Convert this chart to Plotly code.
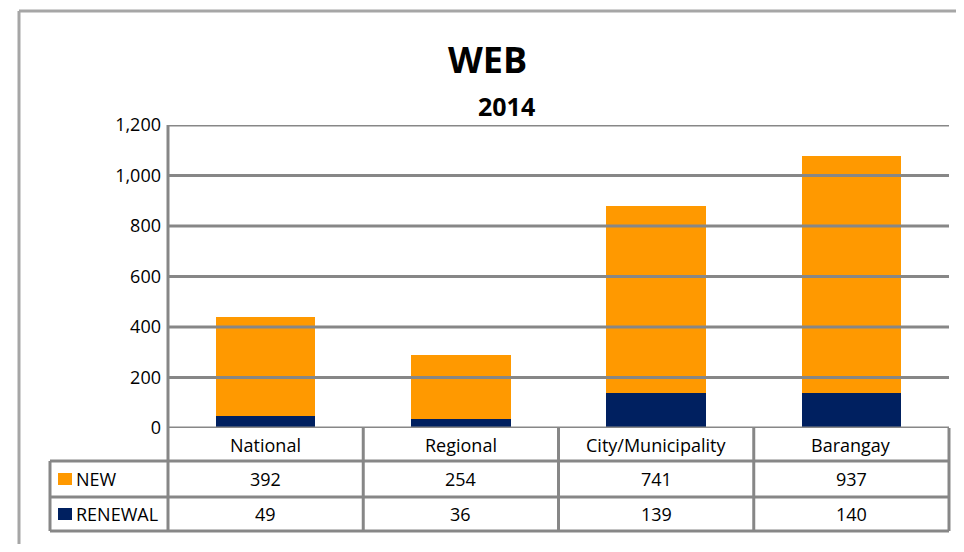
import plotly.graph_objects as go

categories = ["National", "Regional", "City/Municipality", "Barangay"]
new_vals = [392, 254, 741, 937]
renewal_vals = [49, 36, 139, 140]
y_ticks = [0, 200, 400, 600, 800, 1000, 1200]
series_names = ["NEW", "RENEWAL"]
series_colors = ["#FF9900", "#002060"]

OFF = 8  # page body margin
W, H = 964 - 2 * OFF, 552 - 2 * OFF
PLOT_L, PLOT_R, PLOT_T, PLOT_B = 168, 949, 125, 428  # page coords
L = PLOT_L - OFF
T = PLOT_T - OFF
R = W - (PLOT_R - OFF)
B = H - (PLOT_B - OFF)
PW = W - L - R
PH = H - T - B
FONT = "Open Sans"
GRID = "#878787"


def px(x):
    return (x - OFF - L) / PW


def py(y):
    return (H - B - (y - OFF)) / PH


fig = go.Figure()
fig.add_trace(go.Bar(x=categories, y=renewal_vals, name="RENEWAL",
                     marker=dict(color=series_colors[1], line=dict(width=0)), width=0.51))
fig.add_trace(go.Bar(x=categories, y=new_vals, name="NEW",
                     marker=dict(color=series_colors[0], line=dict(width=0)), width=0.51))

shapes = []
for t in y_ticks:
    shapes.append(dict(type="line", xref="paper", yref="y", x0=0, x1=1, y0=t, y1=t,
                       line=dict(color=GRID, width=3), layer="above"))

row_y = [428, 461, 497, 531]
col_x = [168, 363.25, 558.5, 753.75, 949]
left_x = 50
lw = dict(color=GRID, width=3)
for ry in row_y[1:]:
    shapes.append(dict(type="line", xref="paper", yref="paper", x0=px(left_x), x1=px(949),
                       y0=py(ry), y1=py(ry), line=lw, layer="above"))
shapes.append(dict(type="line", xref="paper", yref="paper", x0=0, x1=0,
                   y0=1, y1=py(row_y[3]), line=lw, layer="above"))
shapes.append(dict(type="line", xref="paper", yref="paper", x0=px(left_x), x1=px(left_x),
                   y0=py(row_y[1]), y1=py(row_y[3]), line=lw, layer="above"))
for cx in col_x[1:]:
    shapes.append(dict(type="line", xref="paper", yref="paper", x0=px(cx), x1=px(cx),
                       y0=py(row_y[0]), y1=py(row_y[3]), line=lw, layer="above"))

bc = dict(color="#A6A6A6", width=3)
shapes.append(dict(type="line", xref="paper", yref="paper", x0=px(19), x1=px(964),
                   y0=py(11), y1=py(11), line=bc, layer="above"))
shapes.append(dict(type="line", xref="paper", yref="paper", x0=px(19), x1=px(19),
                   y0=py(11), y1=py(552), line=bc, layer="above"))

annotations = []
tfont = dict(family=FONT, size=18, color="#000000")
for i, c in enumerate(categories):
    annotations.append(dict(x=c, xref="x", y=py(445), yref="paper", text=c,
                            showarrow=False, font=tfont, xanchor="center", yanchor="middle"))
    annotations.append(dict(x=c, xref="x", y=py(479), yref="paper", text=str(new_vals[i]),
                            showarrow=False, font=tfont, xanchor="center", yanchor="middle"))
    annotations.append(dict(x=c, xref="x", y=py(514), yref="paper", text=str(renewal_vals[i]),
                            showarrow=False, font=tfont, xanchor="center", yanchor="middle"))

for name, color, cy in zip(series_names, series_colors, [479, 514]):
    shapes.append(dict(type="rect", xref="paper", yref="paper", x0=px(58), x1=px(72),
                       y0=py(cy - 6), y1=py(cy + 6), fillcolor=color, line=dict(width=0),
                       layer="above"))
    annotations.append(dict(x=px(74), xref="paper", y=py(cy), yref="paper", text=name,
                            showarrow=False, font=tfont, xanchor="left", yanchor="middle"))

annotations.append(dict(x=px(487), xref="paper", y=py(59), yref="paper", text="<b>WEB</b>",
                        showarrow=False, font=dict(family=FONT, size=36, color="#000"),
                        xanchor="center", yanchor="middle"))
annotations.append(dict(x=px(506), xref="paper", y=py(106), yref="paper", text="<b>2014</b>",
                        showarrow=False, font=dict(family=FONT, size=25, color="#000"),
                        xanchor="center", yanchor="middle"))

fig.update_layout(
    width=W, height=H,
    margin=dict(l=L, r=R, t=T, b=B),
    barmode="stack",
    showlegend=False,
    plot_bgcolor="white", paper_bgcolor="white",
    font=dict(family=FONT, size=18, color="#000"),
    xaxis=dict(showticklabels=False, showgrid=False, zeroline=False, ticks="",
               showline=False, fixedrange=True),
    yaxis=dict(range=[0, 1200], tickvals=y_ticks, tickformat=",", showgrid=False,
               zeroline=False, showline=False, ticks="", ticklabelstandoff=6,
               tickfont=dict(family=FONT, size=18, color="#000")),
    shapes=shapes,
    annotations=annotations,
)

fig.write_html("out.html")
